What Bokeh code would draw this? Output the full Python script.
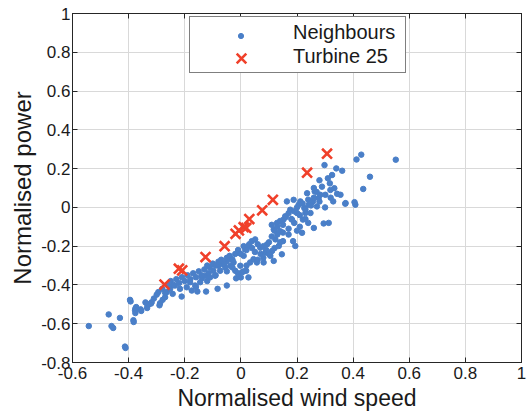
from bokeh.plotting import figure
from bokeh.models import (FixedTicker, LinearAxis, Range1d, Legend, LegendItem,
                          CustomLabelingPolicy)
from bokeh.embed import file_html
from bokeh.resources import INLINE

# ---------------- data ----------------
neigh_x = [
    -0.413, -0.431, -0.383, -0.395, -0.377, -0.373, -0.357, -0.333, -0.318, -0.288,
    -0.279, -0.270, -0.294, -0.264, -0.252, -0.243, -0.235, -0.217, -0.211, -0.193,
    -0.181, -0.175, -0.163, -0.155, -0.145, -0.139, -0.124, -0.127, -0.115, -0.110,
    -0.098, -0.092, -0.080, -0.074, -0.083, -0.068, -0.056, -0.050, -0.050, -0.038,
    -0.032, -0.026, -0.020, -0.017, -0.008, -0.002, 0.000, 0.004, 0.010, 0.015,
    0.019, 0.027, 0.027, 0.033, 0.039, 0.045, 0.051, 0.057, 0.069, 0.081,
    0.087, 0.093, 0.105, 0.111, 0.117, 0.117, 0.123, 0.129, 0.135, 0.140,
    0.146, 0.150, 0.152, 0.158, 0.164, 0.170, 0.176, 0.182, 0.186, 0.188,
    0.194, 0.200, 0.206, 0.212, 0.218, 0.221, 0.226, 0.230, 0.236, 0.242,
    0.248, 0.257, 0.260, 0.263, 0.271, 0.277, 0.283, 0.289, 0.295, 0.298,
    0.301, 0.313, 0.317, 0.319, 0.325, 0.329, 0.333, 0.340, 0.343, 0.355,
    0.361, 0.373, 0.408, 0.412, 0.429, 0.436, 0.460, 0.552, 0.405, 0.372,
    -0.393, -0.376, -0.376, -0.355, -0.334, -0.328, -0.320, -0.290, -0.471, -0.382,
    -0.461, -0.455, -0.542, -0.411,
    -0.26, -0.25, -0.24, -0.23, -0.22, -0.21, -0.20, -0.19, -0.18, -0.17,
    -0.16, -0.15, -0.14, -0.13, -0.12, -0.11, -0.10, -0.09, -0.08, -0.07,
    -0.06, -0.05, -0.04, -0.03, -0.02, -0.01, 0.00, 0.01, 0.02, 0.03,
    0.04, 0.05, 0.06, 0.07, 0.08, 0.09, 0.10, 0.11, 0.12, 0.13,
    0.14, 0.15, 0.16, 0.17, 0.18, 0.19, 0.20, 0.21, 0.22, 0.23,
    0.24, 0.25, 0.26, 0.27, 0.28, 0.15, 0.13, 0.11, 0.17, 0.19,
    0.21, 0.23, -0.03, -0.01, 0.01, -0.05, 0.02, 0.06, 0.08, 0.12,
    0.14, 0.10, -0.12, -0.09, -0.16, -0.30, -0.28, -0.27, -0.31, -0.34,
    0.30, 0.32, 0.26, 0.24, 0.20, 0.28, 0.31,
]
neigh_y = [
    -0.718, -0.570, -0.582, -0.477, -0.531, -0.514, -0.526, -0.506, -0.489, -0.494,
    -0.477, -0.463, -0.437, -0.437, -0.420, -0.446, -0.403, -0.420, -0.460, -0.412,
    -0.386, -0.429, -0.403, -0.434, -0.386, -0.366, -0.434, -0.352, -0.339, -0.361,
    -0.327, -0.352, -0.301, -0.327, -0.420, -0.292, -0.310, -0.276, -0.403, -0.301,
    -0.267, -0.284, -0.327, -0.366, -0.233, -0.301, -0.361, -0.335, -0.250, -0.216,
    -0.327, -0.361, -0.199, -0.284, -0.174, -0.267, -0.165, -0.284, -0.208, -0.284,
    -0.233, -0.191, -0.250, -0.225, -0.276, -0.114, -0.165, -0.080, -0.199, -0.123,
    -0.242, -0.174, -0.063, -0.046, 0.031, -0.140, -0.012, -0.063, -0.174, 0.039,
    -0.199, -0.029, 0.014, 0.031, -0.131, -0.063, -0.003, -0.029, 0.073, 0.014,
    -0.029, 0.031, -0.106, 0.082, 0.005, 0.048, 0.065, 0.107, -0.083, 0.218,
    0.065, -0.080, 0.124, 0.090, 0.167, 0.031, 0.099, 0.201, 0.070, 0.065,
    0.189, 0.022, 0.014, 0.247, 0.272, 0.095, 0.158, 0.246, 0.027, 0.019,
    -0.485, -0.522, -0.545, -0.534, -0.519, -0.500, -0.496, -0.505, -0.552, -0.591,
    -0.612, -0.622, -0.612, -0.725,
    -0.40, -0.38, -0.40, -0.37, -0.39, -0.36, -0.38, -0.35, -0.37, -0.34,
    -0.36, -0.33, -0.35, -0.32, -0.30, -0.31, -0.29, -0.30, -0.28, -0.27,
    -0.29, -0.26, -0.25, -0.27, -0.24, -0.22, -0.24, -0.20, -0.22, -0.19,
    -0.21, -0.23, -0.19, -0.24, -0.20, -0.22, -0.18, -0.15, -0.12, -0.10,
    -0.07, -0.09, -0.05, -0.03, -0.06, -0.02, 0.00, -0.04, 0.02, -0.01,
    0.04, 0.01, 0.05, 0.08, 0.03, -0.13, -0.14, -0.09, -0.11, -0.08,
    -0.10, -0.06, -0.31, -0.34, -0.33, -0.33, -0.30, -0.27, -0.26, -0.21,
    -0.18, -0.24, -0.38, -0.35, -0.41, -0.45, -0.42, -0.44, -0.47, -0.49,
    0.00, 0.05, 0.10, -0.08, -0.12, 0.14, 0.15,
]

turb_x = [-0.272, -0.221, -0.209, -0.126, -0.058, -0.019, -0.007, 0.010, 0.019, 0.030, 0.076, 0.114, 0.236, 0.307]
turb_y = [-0.398, -0.316, -0.325, -0.256, -0.200, -0.136, -0.119, -0.102, -0.106, -0.060, -0.015, 0.039, 0.179, 0.277]

xtick_values = [-0.6, -0.4, -0.2, 0, 0.2, 0.4, 0.6, 0.8, 1]
xtick_labels = ["-0.6", "-0.4", "-0.2", "0", "0.2", "0.4", "0.6", "0.8", "1"]
ytick_values = [-0.8, -0.6, -0.4, -0.2, 0, 0.2, 0.4, 0.6, 0.8, 1]
ytick_labels = ["-0.8", "-0.6", "-0.4", "-0.2", "0", "0.2", "0.4", "0.6", "0.8", "1"]

series_names = ["Neighbours", "Turbine 25"]

BLUE = "#4a7fc8"
RED = "#f0402a"
TXT = "#1a1a1a"
FONT = "Liberation Sans"

# ---------------- figure ----------------
p = figure(width=528, height=415, output_backend="svg", toolbar_location=None,
           x_range=Range1d(-0.6, 1), y_range=Range1d(-0.8, 1),
           min_border_left=72, min_border_right=7, min_border_top=13, min_border_bottom=53)
p.background_fill_color = "white"
p.border_fill_color = "white"
p.outline_line_color = "black"
p.outline_line_width = 1

blue = p.scatter(neigh_x, neigh_y, marker="circle", size=5.5, fill_color=BLUE, line_color=BLUE)
red = p.scatter(turb_x, turb_y, marker="x", size=14, line_color=RED, line_width=2.6)
# empty proxies so that the boxed legend only carries the texts
proxy_a = p.scatter([], [], marker="circle", size=1, fill_alpha=0, line_alpha=0)
proxy_b = p.scatter([], [], marker="circle", size=1, fill_alpha=0, line_alpha=0)

for ax, vals, labs in ((p.xaxis[0], xtick_values, xtick_labels), (p.yaxis[0], ytick_values, ytick_labels)):
    ax.ticker = FixedTicker(ticks=vals)
    ax.major_label_overrides = {v: l for v, l in zip(vals, labs)}
    ax.major_tick_in = 5
    ax.major_tick_out = 0
    ax.minor_tick_in = 0
    ax.minor_tick_out = 0
    ax.major_label_text_font = FONT
    ax.major_label_text_font_size = "17px"
    ax.major_label_text_color = TXT
    ax.axis_label_text_font = FONT
    ax.axis_label_text_font_style = "normal"
    ax.axis_label_text_color = TXT
    ax.axis_line_color = "#262626"
    ax.major_tick_line_color = "#262626"

p.xaxis.axis_label = "Normalised wind speed"
p.yaxis.axis_label = "Normalised power"
p.xaxis.axis_label_text_font_size = "23px"
p.yaxis.axis_label_text_font_size = "24px"
p.xaxis.major_label_standoff = 4
p.yaxis.major_label_standoff = 2
p.xaxis.axis_label_standoff = 3
p.yaxis.axis_label_standoff = 2

# tick marks on the top and right edges, without labels
for side, vals in (("above", xtick_values), ("right", ytick_values)):
    ax = LinearAxis(ticker=FixedTicker(ticks=vals),
                    major_label_policy=CustomLabelingPolicy(code="return new Set()"),
                    major_label_text_font_size="1px",
                    major_label_standoff=0, major_tick_in=5, major_tick_out=0,
                    minor_tick_in=0, minor_tick_out=0, axis_line_color="#262626",
                    major_tick_line_color="#262626")
    p.add_layout(ax, side)

p.grid.grid_line_color = "#d9d9d9"
p.grid.grid_line_width = 1
p.xgrid.ticker = FixedTicker(ticks=xtick_values)
p.ygrid.ticker = FixedTicker(ticks=ytick_values)

# boxed legend with the texts
leg_a = Legend(items=[LegendItem(label=series_names[0], renderers=[proxy_a]),
                      LegendItem(label=series_names[1], renderers=[proxy_b])],
               location=(117, 289), margin=0, padding=4, spacing=1,
               glyph_width=93, glyph_height=23, label_height=23, label_width=108,
               label_standoff=6, border_line_color="black", border_line_width=1,
               background_fill_color="white", background_fill_alpha=1,
               label_text_font=FONT, label_text_font_size="20px", label_text_color=TXT)
p.add_layout(leg_a, "center")

# the two legend markers, each at its own size
def marker_legend(renderer, box, loc):
    return Legend(items=[LegendItem(label=" ", renderers=[renderer])], location=loc,
                  margin=0, padding=0, spacing=0, glyph_width=box, glyph_height=box,
                  label_height=box, label_width=0, label_standoff=0,
                  border_line_alpha=0, background_fill_alpha=0,
                  label_text_alpha=0, label_text_font_size="2px")

p.add_layout(marker_legend(blue, 13, (162, 320)), "center")
p.add_layout(marker_legend(red, 34, (152, 287)), "center")

open("out.html", "w").write(file_html(p, INLINE))
